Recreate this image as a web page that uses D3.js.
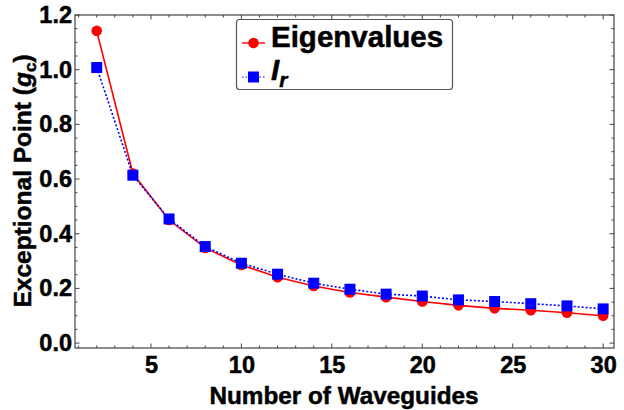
<!DOCTYPE html>
<html lang="en">
<head>
<meta charset="UTF-8">
<title>Exceptional Point vs Number of Waveguides</title>
<script src="https://d3js.org/d3.v7.min.js"></script>
<style>
  body { margin: 0; background: #fff; }
  text { font-family: "Liberation Sans", Arial, sans-serif; font-weight: bold; stroke: #000; stroke-width: 0.5px; }
</style>
</head>
<body>
<svg width="624" height="410"></svg>
<script>
    // data
    var waveguides = [2, 4, 6, 8, 10, 12, 14, 16, 18, 20, 22, 24, 26, 28, 30];
    var eigenvalues = [1.142, 0.62, 0.45, 0.348, 0.286, 0.241, 0.209, 0.185, 0.168, 0.152, 0.138, 0.127, 0.12, 0.111, 0.100];
    var irValues = [1.008, 0.614, 0.454, 0.353, 0.292, 0.252, 0.219, 0.197, 0.179, 0.172, 0.158, 0.152, 0.144, 0.136, 0.125];
    var xTicks = [5, 10, 15, 20, 25, 30];
    var yTicks = [0, 0.2, 0.4, 0.6, 0.8, 1.0, 1.2];

    var pL = 75, pR = 614, pT = 15, pB = 348;
    var frameColor = "#444";

    var svg = d3.select("svg");

    var x = d3.scaleLinear().domain([0.8, 30.6]).range([pL, pR]);
    var y = d3.scaleLinear().domain([-0.018, 1.2]).range([pB, pT]);

    var xMinor = d3.range(1, 31);
    var yMinor = d3.range(0, 1.2001, 0.05);

    // frame
    svg.append("rect")
        .attr("x", pL).attr("y", pT)
        .attr("width", pR - pL).attr("height", pB - pT)
        .attr("fill", "none")
        .attr("stroke", frameColor)
        .attr("stroke-width", 1.2);

    // ticks on all four sides, pointing inward
    function horizTicks(vals, len) {
        var g = svg.append("g").attr("stroke", frameColor).attr("stroke-width", 1);
        vals.forEach(function (v) {
            g.append("line").attr("x1", x(v)).attr("x2", x(v)).attr("y1", pB).attr("y2", pB - len);
            g.append("line").attr("x1", x(v)).attr("x2", x(v)).attr("y1", pT).attr("y2", pT + len);
        });
    }
    horizTicks(xMinor.filter(function (v) { return v % 5 !== 0; }), 2.5);
    horizTicks(xTicks, 4.5);

    function vertTicks(vals, len) {
        var g = svg.append("g").attr("stroke", frameColor).attr("stroke-width", 1);
        vals.forEach(function (v) {
            g.append("line").attr("y1", y(v)).attr("y2", y(v)).attr("x1", pL).attr("x2", pL + len);
            g.append("line").attr("y1", y(v)).attr("y2", y(v)).attr("x1", pR).attr("x2", pR - len);
        });
    }
    vertTicks(yMinor.filter(function (v) { return Math.abs(Math.round(v * 5) - v * 5) > 1e-6; }), 2.5);
    vertTicks(yTicks, 4.5);

    // tick labels via d3 axes (tick lines drawn above)
    var xAxis = svg.append("g")
        .attr("transform", "translate(0," + pB + ")")
        .call(d3.axisBottom(x).tickValues(xTicks).tickSize(0).tickPadding(8.5).tickFormat(d3.format("d")));
    var yAxis = svg.append("g")
        .attr("transform", "translate(" + pL + ",0)")
        .call(d3.axisLeft(y).tickValues(yTicks).tickSize(0).tickPadding(3).tickFormat(d3.format(".1f")));
    [xAxis, yAxis].forEach(function (a) {
        a.select(".domain").remove();
        a.selectAll("text")
            .attr("font-size", 23.5)
            .attr("font-family", "'Liberation Sans', Arial, sans-serif")
            .attr("font-weight", "bold")
            .attr("fill", "#000");
    });

    svg.append("text")
        .attr("x", (pL + pR) / 2 - 0.5)
        .attr("y", 404)
        .attr("text-anchor", "middle")
        .attr("font-size", 24.3)
        .attr("fill", "#000")
        .text("Number of Waveguides");

    var yl = svg.append("text")
        .attr("transform", "translate(31,181) rotate(-90)")
        .attr("text-anchor", "middle")
        .attr("font-size", 24.5)
        .attr("fill", "#000");
    yl.append("tspan").text("Exceptional Point (");
    yl.append("tspan").attr("font-style", "italic").text("g");
    yl.append("tspan").attr("font-size", 17).attr("dy", 5).text("c");
    yl.append("tspan").attr("dy", -5).text(")");

    // series
    var line = d3.line()
        .x(function (d) { return x(d[0]); })
        .y(function (d) { return y(d[1]); });

    var redPts = waveguides.map(function (n, i) { return [n, eigenvalues[i]]; });
    var bluePts = waveguides.map(function (n, i) { return [n, irValues[i]]; });

    svg.append("path")
        .datum(redPts)
        .attr("d", line)
        .attr("fill", "none")
        .attr("stroke", "#ff0000")
        .attr("stroke-width", 1.6);

    svg.append("path")
        .datum(bluePts)
        .attr("d", line)
        .attr("fill", "none")
        .attr("stroke", "#0000ff")
        .attr("stroke-width", 1.6)
        .attr("stroke-dasharray", "2,2");

    svg.append("g").selectAll("circle")
        .data(redPts)
        .enter().append("circle")
        .attr("cx", function (d) { return x(d[0]); })
        .attr("cy", function (d) { return y(d[1]); })
        .attr("r", 5.3)
        .attr("fill", "#ff0000");

    svg.append("g").selectAll("rect")
        .data(bluePts)
        .enter().append("rect")
        .attr("x", function (d) { return x(d[0]) - 5.5; })
        .attr("y", function (d) { return y(d[1]) - 5.5; })
        .attr("width", 11)
        .attr("height", 11)
        .attr("fill", "#0000ff");

    // legend
    var legend = svg.append("g");
    legend.append("rect")
        .attr("x", 236.5).attr("y", 19.5)
        .attr("width", 216).attr("height", 70)
        .attr("rx", 3)
        .attr("fill", "#fff")
        .attr("stroke", "#555")
        .attr("stroke-width", 1.2);

    legend.append("line")
        .attr("x1", 242).attr("x2", 265).attr("y1", 43).attr("y2", 43)
        .attr("stroke", "#ff0000").attr("stroke-width", 1.4);
    legend.append("circle")
        .attr("cx", 253.5).attr("cy", 43).attr("r", 5.3).attr("fill", "#ff0000");
    legend.append("text")
        .attr("x", 271).attr("y", 46.5)
        .attr("font-size", 29.5)
        .attr("fill", "#000")
        .text("Eigenvalues");

    legend.append("line")
        .attr("x1", 242).attr("x2", 265).attr("y1", 77).attr("y2", 77)
        .attr("stroke", "#0000ff").attr("stroke-width", 1.2)
        .attr("stroke-dasharray", "1.5,2");
    legend.append("rect")
        .attr("x", 248).attr("y", 71.5).attr("width", 11).attr("height", 11)
        .attr("fill", "#0000ff");
    var lt = legend.append("text")
        .attr("x", 271).attr("y", 80)
        .attr("font-size", 29.5)
        .attr("font-style", "italic")
        .attr("fill", "#000");
    lt.append("tspan").text("I");
    lt.append("tspan").attr("font-size", 21).attr("dy", 7).text("r");
</script>
</body>
</html>
